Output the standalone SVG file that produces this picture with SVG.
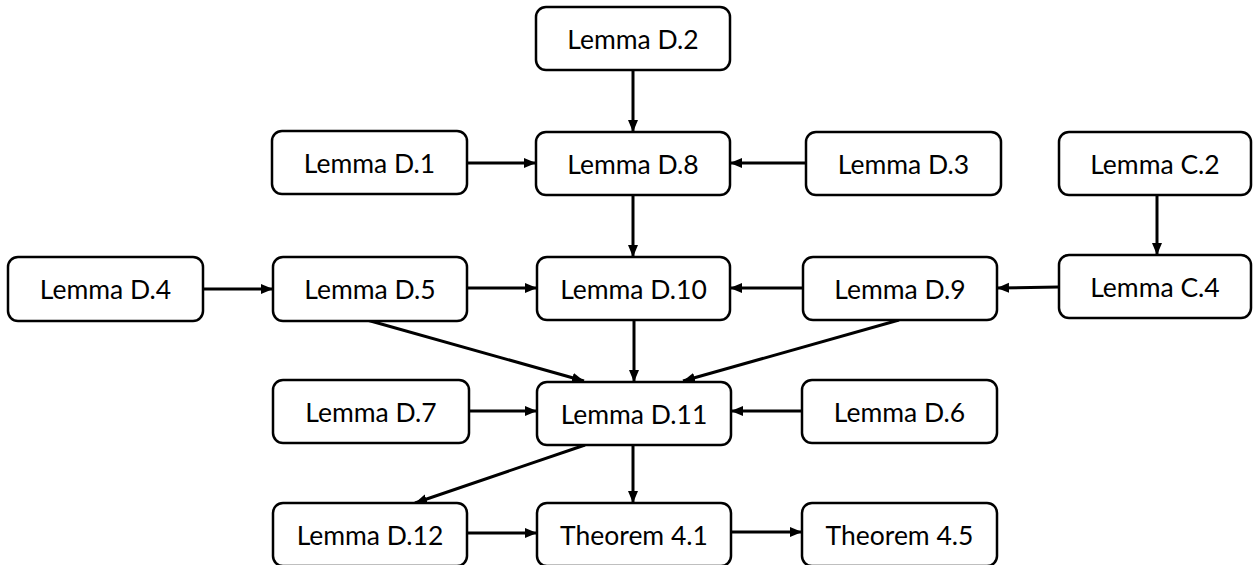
<svg xmlns="http://www.w3.org/2000/svg" width="1253" height="565" viewBox="0 0 1253 565">
<style>
.box{fill:#fff;stroke:#000;stroke-width:2.5}
.lbl{font-family:Lato,"Liberation Sans",sans-serif;font-size:26.5px;fill:#000;text-anchor:middle}
.edge{stroke:#000;stroke-width:3;fill:none;marker-end:url(#ah)}
</style>
<defs>
<marker id="ah" markerUnits="userSpaceOnUse" markerWidth="13" markerHeight="13" viewBox="0 0 13 13" refX="12" refY="6.5" orient="auto">
<path d="M0,1.5 L12,6.5 L0,11.5 Z" fill="#000"/>
</marker>
</defs>
<g id="connectors">
<line class="edge" x1="633" y1="70" x2="633" y2="132"/>
<line class="edge" x1="467" y1="163" x2="536" y2="163"/>
<line class="edge" x1="806" y1="163" x2="730" y2="163"/>
<line class="edge" x1="633" y1="195" x2="633" y2="257"/>
<line class="edge" x1="1157" y1="195" x2="1157" y2="255"/>
<line class="edge" x1="1059" y1="287" x2="997" y2="288"/>
<line class="edge" x1="803" y1="288" x2="730" y2="288"/>
<line class="edge" x1="203" y1="289" x2="273" y2="289"/>
<line class="edge" x1="467" y1="288" x2="537" y2="288"/>
<line class="edge" x1="367" y1="320" x2="584" y2="381"/>
<line class="edge" x1="634" y1="320" x2="634" y2="382"/>
<line class="edge" x1="899" y1="320" x2="683" y2="381"/>
<line class="edge" x1="469" y1="411" x2="537" y2="411"/>
<line class="edge" x1="802" y1="411" x2="731" y2="411"/>
<line class="edge" x1="585" y1="445" x2="415" y2="503"/>
<line class="edge" x1="633" y1="445" x2="633" y2="503"/>
<line class="edge" x1="467" y1="533" x2="537" y2="533"/>
<line class="edge" x1="731" y1="532" x2="802" y2="532"/>
</g>
<g id="lemma-d2"><rect class="box" x="536" y="7" width="194" height="63" rx="10"/><text class="lbl" x="633" y="48.5">Lemma D.2</text></g>
<g id="lemma-d1"><rect class="box" x="272" y="131" width="195" height="63" rx="10"/><text class="lbl" x="369.5" y="172.5">Lemma D.1</text></g>
<g id="lemma-d8"><rect class="box" x="536" y="132" width="194" height="63" rx="10"/><text class="lbl" x="633" y="173.5">Lemma D.8</text></g>
<g id="lemma-d3"><rect class="box" x="806" y="132" width="195" height="63" rx="10"/><text class="lbl" x="903.5" y="173.5">Lemma D.3</text></g>
<g id="lemma-c2"><rect class="box" x="1059" y="132" width="192" height="63" rx="10"/><text class="lbl" x="1155" y="173.5">Lemma C.2</text></g>
<g id="lemma-d4"><rect class="box" x="8" y="257" width="195" height="64" rx="10"/><text class="lbl" x="105.5" y="298.5">Lemma D.4</text></g>
<g id="lemma-d5"><rect class="box" x="273" y="257" width="194" height="64" rx="10"/><text class="lbl" x="370" y="298.5">Lemma D.5</text></g>
<g id="lemma-d10"><rect class="box" x="537" y="257" width="193" height="63" rx="10"/><text class="lbl" x="633.5" y="298.5">Lemma D.10</text></g>
<g id="lemma-d9"><rect class="box" x="803" y="257" width="194" height="63" rx="10"/><text class="lbl" x="900" y="298.5">Lemma D.9</text></g>
<g id="lemma-c4"><rect class="box" x="1059" y="255" width="192" height="63" rx="10"/><text class="lbl" x="1155" y="296.5">Lemma C.4</text></g>
<g id="lemma-d7"><rect class="box" x="273" y="380" width="196" height="63" rx="10"/><text class="lbl" x="371" y="421.5">Lemma D.7</text></g>
<g id="lemma-d11"><rect class="box" x="537" y="382" width="194" height="63" rx="10"/><text class="lbl" x="634" y="423.5">Lemma D.11</text></g>
<g id="lemma-d6"><rect class="box" x="802" y="380" width="195" height="63" rx="10"/><text class="lbl" x="899.5" y="421.5">Lemma D.6</text></g>
<g id="lemma-d12"><rect class="box" x="273" y="503" width="194" height="63" rx="10"/><text class="lbl" x="370" y="544.5">Lemma D.12</text></g>
<g id="theorem-4-1"><rect class="box" x="537" y="503" width="194" height="63" rx="10"/><text class="lbl" x="634" y="544.5">Theorem 4.1</text></g>
<g id="theorem-4-5"><rect class="box" x="802" y="503" width="195" height="63" rx="10"/><text class="lbl" x="899.5" y="544.5">Theorem 4.5</text></g>
</svg>
